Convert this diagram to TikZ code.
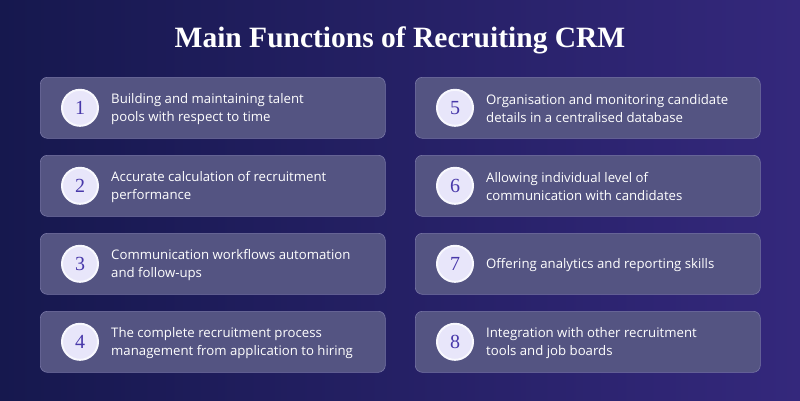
\documentclass[tikz,border=0pt]{standalone}
\usepackage{fontspec}
\setmainfont{Open Sans}
\newfontfamily\titlefont{Liberation Serif}
\usetikzlibrary{positioning}
\definecolor{bgnavy}{RGB}{22,24,78}
\definecolor{bgpurple}{RGB}{52,40,124}
\definecolor{cardfill}{RGB}{84,84,130}
\definecolor{cardline}{RGB}{120,118,165}
\definecolor{numfill}{RGB}{232,230,250}
\definecolor{numtext}{RGB}{72,56,170}

\begin{document}
\begin{tikzpicture}[x=1pt,y=-1pt]
    % Styles
    \tikzset{card/.style   ={fill=cardfill,draw=cardline,line width=0.6pt,rounded corners=7pt,minimum width=345pt,minimum height=61pt,anchor=north west}}
    \tikzset{badge/.style  ={circle,fill=numfill,draw=white!70!numfill,line width=2pt,minimum size=36pt,inner sep=0pt,text=numtext,font=\titlefont\fontsize{20}{20}\selectfont}}
    \tikzset{label/.style  ={anchor=west,align=left,text=white,inner sep=0pt,font=\fontsize{13.2}{18}\selectfont}}

    % Background
    \shade[left color=bgnavy,right color=bgpurple] (0,0) rectangle (800,400);
    \useasboundingbox (0,0) rectangle (800,400);

    % Title
    \node[text=white,font=\titlefont\bfseries\fontsize{29.5}{32}\selectfont] (title) at (400,40) {Main Functions of Recruiting CRM};

    % Cards
    \foreach \n/\x/\y/\txt in {
      1/40/77/{Building and maintaining talent\\pools with respect to time},
      2/40/155/{Accurate calculation of recruitment\\performance},
      3/40/233/{Communication workflows automation\\and follow-ups},
      4/40/311/{The complete recruitment process\\management from application to hiring},
      5/415/77/{Organisation and monitoring candidate\\details in a centralised database},
      6/415/155/{Allowing individual level of\\communication with candidates},
      7/415/233/{Offering analytics and reporting skills},
      8/415/311/{Integration with other recruitment\\tools and job boards}} {
      \node[card] (card\n) at (\x,\y) {};
      \node[badge] (num\n) at ([xshift=40pt]card\n.west) {\n};
      \node[label] (text\n) at ([xshift=71pt,yshift=-1pt]card\n.west) {\txt};
    }
  \end{tikzpicture}
\end{document}
